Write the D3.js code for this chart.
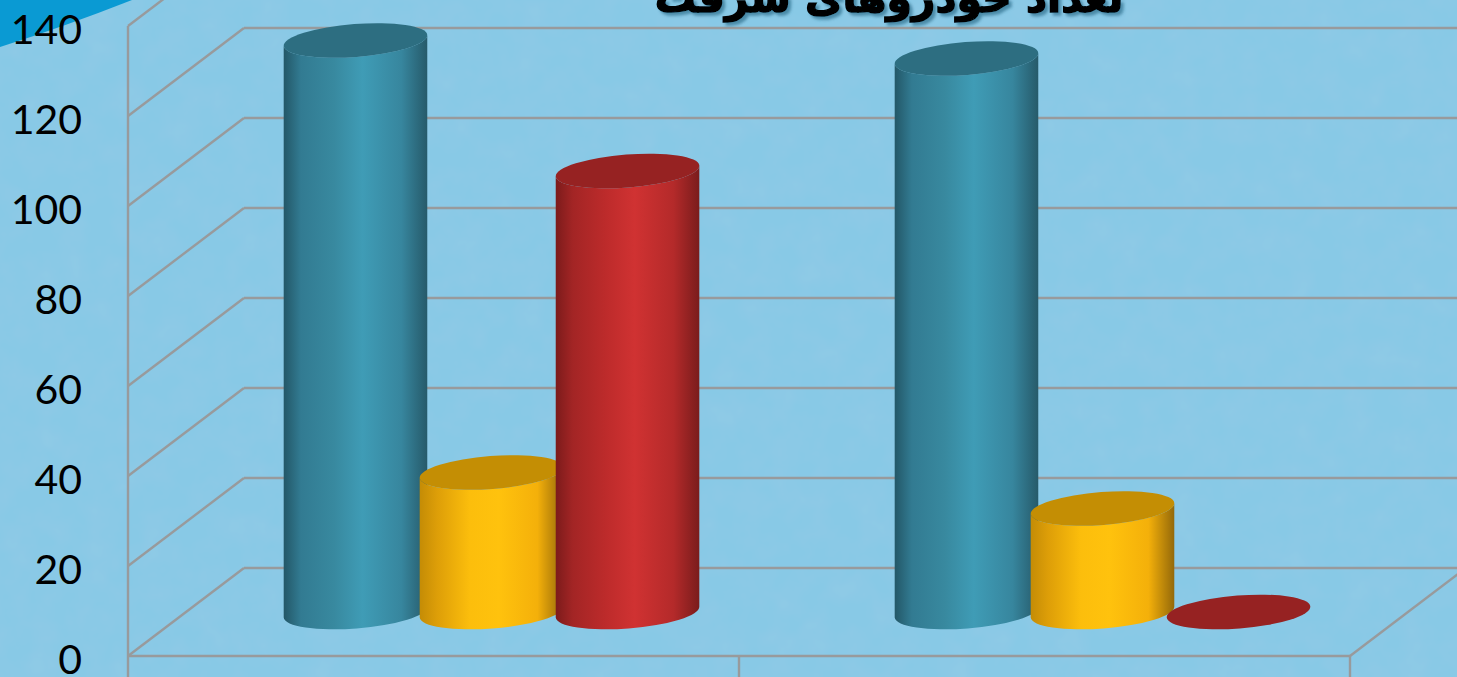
<!DOCTYPE html>
<html lang="fa">
<head>
<meta charset="utf-8">
<script src="https://cdn.jsdelivr.net/npm/d3@7"></script>
<style>
  html, body { margin: 0; padding: 0; background: #88c9e6; overflow: hidden; }
  svg { display: block; }
</style>
</head>
<body>
<svg id="chart" width="1457" height="677"></svg>
<script>
// values
const categories = ['الف', 'ب'];
const seriesNames = ['blue', 'yellow', 'red'];
const blueValues = [127, 123];
const yellowValues = [31, 23];
const redValues = [98, 0];
const yTicks = [0, 20, 40, 60, 80, 100, 120, 140];
const titleText = 'تعداد خودروهای سرقت';

const seriesValues = { blue: blueValues, yellow: yellowValues, red: redValues };
const palette = {
  blue: { top: '#2d6e81', stops: ['#235767', '#327b92', '#38899f', '#3f9cb6', '#37869e', '#265a6a'] },
  yellow: { top: '#c48e04', stops: ['#c48c06', '#dd9e08', '#fcbe0c', '#ffc20d', '#f4b00a', '#94690a'] },
  red: { top: '#962222', stops: ['#7c1b1b', '#a32525', '#bd2b2b', '#d03232', '#b42a2a', '#7a1c1c'] }
};

const svg = d3.select('#chart');
const floorFront = 656;
const plotLeft = 128;
const plotRight = 1350;
const depth = { x: 116, y: -88 };

// front edge of the plot, the back wall is the same thing shifted by depth
const xScale = d3.scaleBand().domain(categories).range([plotLeft, plotRight]);
const yScale = d3.scaleLinear().domain([0, 140]).range([floorFront, 26]);
const seriesScale = d3.scaleBand()
  .domain(seriesNames)
  .range([0, xScale.bandwidth()])
  .paddingInner(0)
  .paddingOuter(0.746);

const defs = svg.append('defs');

// faint mottled texture on the slide background
const texture = defs.append('filter').attr('id', 'texture')
  .attr('x', 0).attr('y', 0).attr('width', '100%').attr('height', '100%');
texture.append('feTurbulence')
  .attr('type', 'fractalNoise').attr('baseFrequency', 0.035).attr('numOctaves', 3).attr('seed', 4);
texture.append('feColorMatrix')
  .attr('values', '0 0 0 0 0.35  0 0 0 0 0.6  0 0 0 0 0.8  0.5 0 0 0 -0.17');

const shadow = defs.append('filter').attr('id', 'titleShadow');
shadow.append('feDropShadow')
  .attr('dx', 3).attr('dy', 3).attr('stdDeviation', 1.5)
  .attr('flood-color', '#2f6f8e').attr('flood-opacity', 0.7);

seriesNames.forEach(name => {
  const grad = defs.append('linearGradient').attr('id', `grad-${name}`);
  const offsets = [0, 0.12, 0.35, 0.55, 0.82, 1];
  palette[name].stops.forEach((c, i) => {
    grad.append('stop').attr('offset', offsets[i]).attr('stop-color', c);
  });
});

// background
svg.append('rect').attr('width', 1457).attr('height', 677).attr('fill', '#88c9e6');
svg.append('rect').attr('width', 1457).attr('height', 677).attr('filter', 'url(#texture)');

// corner of the slide swoosh
svg.append('path')
  .attr('d', 'M0,47 Q66,26 132,0 L0,0 Z')
  .attr('fill', '#0a9ad3');

// grid
const gridColor = '#989a9c';
const grid = svg.append('g').attr('fill', 'none').attr('stroke', gridColor).attr('stroke-width', 2.4);

yTicks.forEach(t => {
  grid.append('line')
    .attr('x1', plotLeft).attr('y1', yScale(t))
    .attr('x2', plotLeft + depth.x).attr('y2', yScale(t) + depth.y);
  grid.append('line')
    .attr('x1', plotLeft + depth.x).attr('y1', yScale(t) + depth.y)
    .attr('x2', plotRight + depth.x).attr('y2', yScale(t) + depth.y);
});

grid.append('line')
  .attr('x1', plotRight).attr('y1', yScale(0))
  .attr('x2', plotRight + depth.x).attr('y2', yScale(0) + depth.y);

// front axis lines and ticks
grid.append('line')
  .attr('x1', plotLeft).attr('y1', yScale(0))
  .attr('x2', plotRight).attr('y2', yScale(0));
grid.append('line')
  .attr('x1', plotLeft).attr('y1', yScale(140))
  .attr('x2', plotLeft).attr('y2', 677);
[plotLeft + xScale.bandwidth(), plotRight].forEach(x => {
  grid.append('line').attr('x1', x).attr('y1', yScale(0)).attr('x2', x).attr('y2', 677);
});

// y axis labels
const yAxis = d3.axisLeft(yScale).tickValues(yTicks).tickSize(0).tickPadding(46);
svg.append('g')
  .attr('transform', `translate(${plotLeft},4)`)
  .call(yAxis)
  .call(g => g.select('.domain').remove())
  .call(g => g.selectAll('text')
    .attr('font-family', 'Lato, sans-serif')
    .attr('font-size', 41)
    .attr('fill', '#000'));

// cylinders stand halfway across the floor
const rx = 72;
const ry = 16.5;
const tilt = -4.4;
const rad = tilt * Math.PI / 180;
const endX = rx * Math.cos(rad);
const endY = rx * Math.sin(rad);

function bodyPath(cx, yTop, yBase) {
  return `M${cx - endX},${yTop - endY}`
    + `L${cx - endX},${yBase - endY}`
    + `A${rx},${ry} ${tilt} 0 0 ${cx + endX},${yBase + endY}`
    + `L${cx + endX},${yTop + endY}`
    + `A${rx},${ry} ${tilt} 0 1 ${cx - endX},${yTop - endY}Z`;
}

const bars = svg.append('g');
categories.forEach((cat, i) => {
  seriesNames.forEach(name => {
    const value = seriesValues[name][i];
    const cx = xScale(cat) + depth.x / 2 + seriesScale(name) + seriesScale.bandwidth() / 2;
    const yBase = yScale(0) + depth.y / 2;
    const yTop = yScale(value) + depth.y / 2;
    if (value > 0) {
      bars.append('path')
        .attr('d', bodyPath(cx, yTop, yBase))
        .attr('fill', `url(#grad-${name})`);
    }
    bars.append('ellipse')
      .attr('rx', rx).attr('ry', ry)
      .attr('transform', `translate(${cx},${yTop}) rotate(${tilt})`)
      .attr('fill', palette[name].top);
  });
});

// title, cut off by the top of the picture
svg.append('text')
  .attr('x', 889)
  .attr('y', 12)
  .attr('text-anchor', 'middle')
  .attr('direction', 'rtl')
  .attr('font-family', '"DejaVu Sans", sans-serif')
  .attr('font-weight', 'bold')
  .attr('font-size', 41)
  .attr('fill', '#000')
  .attr('stroke', '#000')
  .attr('stroke-width', 1.5)
  .attr('filter', 'url(#titleShadow)')
  .text(titleText);
</script>
</body>
</html>
